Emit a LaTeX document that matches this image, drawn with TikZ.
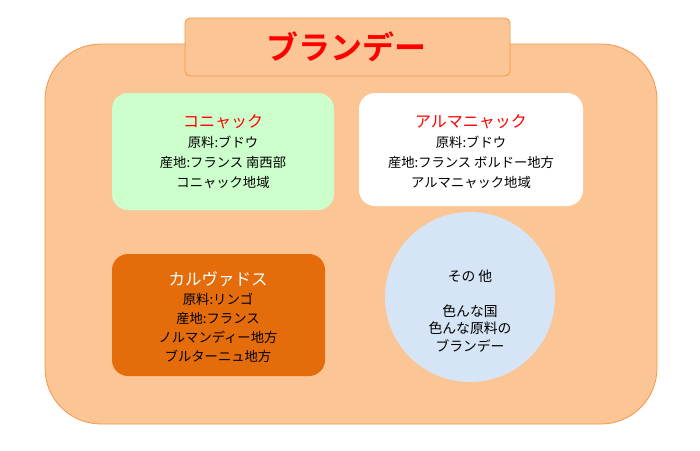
\documentclass[tikz,border=0pt]{standalone}
\usepackage{fontspec}
\setmainfont{Noto Sans CJK JP}
\newfontfamily\jpbold{Noto Sans CJK JP Bold}
\definecolor{peach}{HTML}{FBC595}
\definecolor{orangeline}{HTML}{F79646}
\definecolor{cognacgreen}{HTML}{CCFFCC}
\definecolor{calvorange}{HTML}{E46C0A}
\definecolor{otherblue}{HTML}{D6E5F5}
\definecolor{headred}{HTML}{FF0000}
\begin{document}
\begin{tikzpicture}[x=1pt,y=-1pt,
  panel/.style={rounded corners=16pt, inner sep=0pt},
  bodytext/.style={align=center, inner sep=0pt, font=\fontsize{13.3}{20}\selectfont}]
\useasboundingbox (0,0) rectangle (700,450);
% outer frame
\node[draw=orangeline, fill=peach, rounded corners=56pt, minimum width=612pt, minimum height=380pt, inner sep=0pt, line width=0.8pt] (frame) at (351,234) {};
% title
\node[draw=orangeline, fill=peach, rounded corners=5pt, minimum width=325pt, minimum height=58pt, inner sep=0pt, line width=0.8pt] (titlebox) at (347.5,47) {};
\node[text=headred, font=\jpbold\fontsize{32}{33}\selectfont, inner sep=0pt] (title) at (346,47) {ブランデー};
% cognac
\node[panel, fill=cognacgreen, minimum width=222pt, minimum height=117pt] (cognac) at (223,151.5) {};
\node[bodytext] (cognactext) at (223,152) {{\color{headred}\fontsize{16}{20}\selectfont コニャック}\\原料:ブドウ\\産地:フランス 南西部\\コニャック地域};
% armagnac
\node[panel, fill=white, minimum width=224pt, minimum height=113pt] (armagnac) at (471,149.5) {};
\node[bodytext] (armagnactext) at (471,152) {{\color{headred}\fontsize{16}{20}\selectfont アルマニャック}\\原料:ブドウ\\産地:フランス  ボルドー地方\\アルマニャック地域};
% calvados
\node[panel, fill=calvorange, minimum width=213pt, minimum height=122pt] (calvados) at (218.5,315) {};
\node[bodytext, font=\fontsize{13.3}{19}\selectfont] (calvadostext) at (218,317) {{\color{white}\fontsize{16.5}{19}\selectfont カルヴァドス}\\原料:リンゴ\\産地:フランス\\ノルマンディー地方\\ブルターニュ地方};
% other
\node[circle, fill=otherblue, minimum size=170pt, inner sep=0pt] (other) at (470,297) {};
\node[bodytext, font=\fontsize{13.8}{17.5}\selectfont] (othertext) at (470,311) {その 他\\[17.5pt]色んな国\\色んな原料の\\ブランデー};
\end{tikzpicture}
\end{document}
